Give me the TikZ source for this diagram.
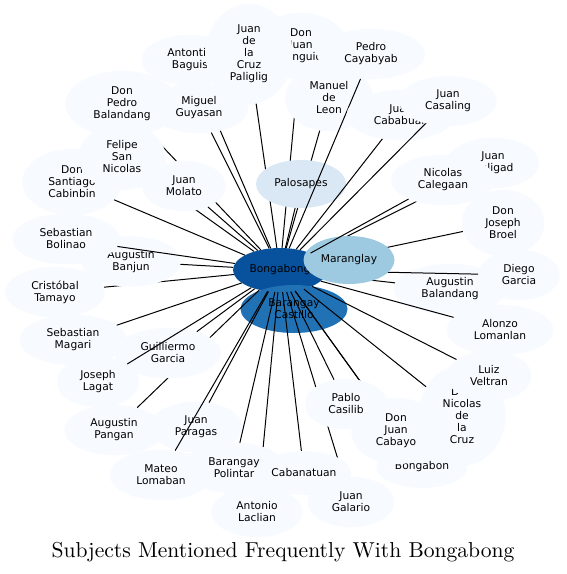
\documentclass[tikz,border=0pt]{standalone}
\usepackage{fontspec}
\usetikzlibrary{shapes.geometric}
\newfontfamily\djv{DejaVu Sans}
\newfontfamily\ttlfont{lmroman10-regular.otf}
\definecolor{bA}{HTML}{F7FBFF}
\definecolor{bPal}{HTML}{DAE8F5}
\definecolor{bMar}{HTML}{9ECAE1}
\definecolor{bCas}{HTML}{2171B5}
\definecolor{bBong}{HTML}{08519C}
\tikzset{
  nd/.style={ellipse, inner sep=0pt, align=center, text=black,
    font=\djv\fontsize{10.7}{12}\selectfont},
  onode/.style={nd, fill=bA},
  sz/.style 2 args={minimum width=#1pt, minimum height=#2pt},
  edge/.style={draw=black, line width=1pt},
  ttl/.style={font=\ttlfont\fontsize{21.6}{26}\selectfont, inner sep=0pt}
}
\begin{document}
\begin{tikzpicture}[x=1pt,y=-1pt]
\useasboundingbox[fill=white] (0,0) rectangle (566,574);
% centre
\node[nd, fill=bBong, sz={94}{44}] (bong) at (280,270) {Bongabong};
\node[nd, fill=bCas, sz={107}{48}] (cas) at (294,309) {Barangay\\Castillo};
% ring, in drawing order: node, then its connector
\node[onode, sz={113}{66.4}] (pedr) at (122,104) {Don\\Pedro\\Balandang};
\draw[edge] (bong) -- (pedr);
\node[onode, sz={96.6}{50.4}] (anto) at (190,60) {Antontio\\Baguis};
\draw[edge] (bong) -- (anto);
\node[onode, sz={98.8}{50.4}] (migu) at (199,108) {Miguel\\Guyasan};
\draw[edge] (bong) -- (migu);
\node[onode, sz={93.2}{66.4}] (pang) at (301,46) {Don\\Juan\\Panguio};
\draw[edge] (bong) -- (pang);
\node[onode, sz={87}{100.4}] (pali) at (249,54) {Juan\\de\\la\\Cruz\\Paliglig};
\draw[edge] (bong) -- (pali);
\node[onode, sz={87.6}{66.4}] (manu) at (329,98) {Manuel\\de\\Leon};
\draw[edge] (bong) -- (manu);
\node[nd, fill=bPal, sz={90}{48}] (pal) at (301,184) {Palosapes};
\draw[edge] (bong) -- (pal);
\node[onode, sz={108}{50.4}] (caya) at (371,54) {Pedro\\Cayabyab};
\draw[edge] (bong) -- (caya);
\node[onode, sz={109}{50.4}] (caba) at (401,115) {Juan\\Cababuan};
\draw[edge] (bong) -- (caba);
\node[onode, sz={97.2}{50.4}] (casa) at (448,101) {Juan\\Casaling};
\draw[edge] (bong) -- (casa);
\node[onode, sz={92}{50.4}] (gali) at (493,163) {Juan\\Galigad};
\draw[edge] (bong) -- (gali);
\node[onode, sz={82.6}{66.4}] (broe) at (503,223) {Don\\Joseph\\Broel};
\draw[edge] (bong) -- (broe);
\node[onode, sz={113}{50.4}] (bala) at (450,289) {Augustin\\Balandang};
\draw[edge] (bong) -- (bala);
\node[onode, sz={81.6}{50.4}] (dieg) at (519,275) {Diego\\Garcia};
\draw[edge] (bong) -- (dieg);
\node[nd, fill=bMar, sz={91}{48}] (mar) at (349,260) {Maranglay};
\node[onode, sz={103.6}{50.4}] (cale) at (443,180) {Nicolas\\Calegaan};
\draw[edge] (bong) -- (cale);
\node[onode, sz={106.8}{50.4}] (alon) at (500,330) {Alonzo\\Lomanlan};
\draw[edge] (bong) -- (alon);
\node[onode, sz={87}{100.4}] (nicr) at (462,415.5) {Don\\Nicolas\\de\\la\\Cruz};
\draw[edge] (bong) -- (nicr);
\node[onode, sz={85}{50.4}] (luiz) at (489,376) {Luiz\\Veltran};
\draw[edge] (bong) -- (luiz);
\node[onode, sz={86.6}{50.4}] (gala) at (351,502) {Juan\\Galario};
\draw[edge] (bong) -- (gala);
\node[onode, sz={91}{42}] (bgbn) at (422,467) {Bongabon};
\draw[edge] (bong) -- (bgbn);
\node[onode, sz={89.4}{66.4}] (caby) at (396,431) {Don\\Juan\\Cabayo};
\draw[edge] (bong) -- (caby);
\node[onode, sz={82.4}{50.4}] (pabl) at (346,404) {Pablo\\Casilib};
\draw[edge] (bong) -- (pabl);
\node[onode, sz={93.2}{50.4}] (para) at (196,427) {Juan\\Paragas};
\draw[edge] (bong) -- (para);
\node[onode, sz={102.6}{50.4}] (mate) at (161,475) {Mateo\\Lomaban};
\draw[edge] (bong) -- (mate);
\node[onode, sz={90.8}{50.4}] (lacl) at (257,512) {Antonio\\Laclian};
\draw[edge] (bong) -- (lacl);
\node[onode, sz={105}{50.4}] (poli) at (234,468) {Barangay\\Polintar};
\draw[edge] (bong) -- (poli);
\node[onode, sz={94}{44}] (cabn) at (304,473) {Cabanatuan};
\draw[edge] (bong) -- (cabn);
\node[onode, sz={99.2}{50.4}] (pngn) at (114,430) {Augustin\\Pangan};
\draw[edge] (bong) -- (pngn);
\node[onode, sz={106}{50.4}] (guil) at (168,353) {Guilliermo\\Garcia};
\draw[edge] (bong) -- (guil);
\node[onode, sz={82.6}{50.4}] (laga) at (98,382) {Joseph\\Lagat};
\draw[edge] (bong) -- (laga);
\node[onode, sz={107.2}{50.4}] (maga) at (73,340) {Sebastian\\Magari};
\draw[edge] (bong) -- (maga);
\node[onode, sz={99.6}{50.4}] (tama) at (55,292) {Cristóbal\\Tamayo};
\draw[edge] (bong) -- (tama);
\node[onode, sz={99.2}{50.4}] (banj) at (131,261.5) {Augustin\\Banjun};
\draw[edge] (bong) -- (banj);
\node[onode, sz={107.2}{50.4}] (boli) at (66,239) {Sebastian\\Bolinao};
\draw[edge] (bong) -- (boli);
\node[onode, sz={99.2}{66.4}] (sant) at (72,182) {Don\\Santiago\\Cabinbin};
\draw[edge] (bong) -- (sant);
\node[onode, sz={87}{66.4}] (feli) at (122,157) {Felipe\\San\\Nicolas};
\draw[edge] (bong) -- (feli);
\node[onode, sz={83.6}{50.4}] (molo) at (184,186) {Juan\\Molato};
\draw[edge] (bong) -- (molo);
% title
\node[ttl] (title) at (283,552) {Subjects Mentioned Frequently With Bongabong};
\end{tikzpicture}
\end{document}
